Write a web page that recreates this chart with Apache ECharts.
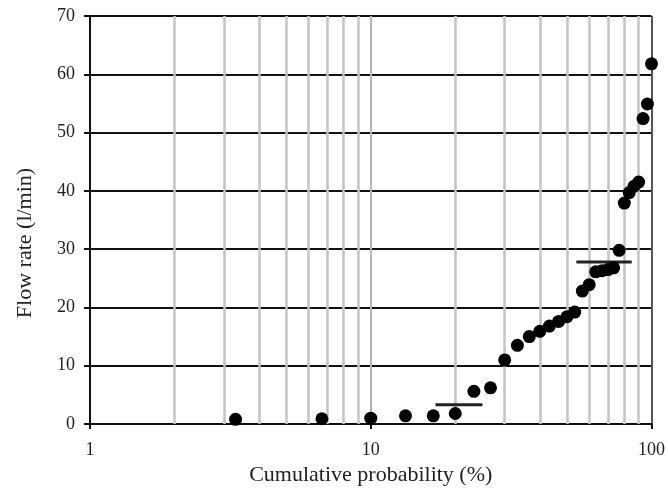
<!DOCTYPE html>
<html>
<head>
<meta charset="utf-8">
<title>Flow rate vs cumulative probability</title>
<script src="https://cdn.jsdelivr.net/npm/echarts@6/dist/echarts.min.js"></script>
<style>
    html, body { margin: 0; padding: 0; background: #fff; }
    #chart { width: 668px; height: 497px; }
</style>
</head>
<body>
<div id="chart"></div>
<script>
    // cumulative probability (%) of each sorted measurement
    var probability = [3.3, 6.7, 10, 13.3, 16.7, 20, 23.3, 26.7, 30, 33.3,
        36.7, 40, 43.3, 46.7, 50, 53.3, 56.7, 60, 63.3, 66.7,
        70, 73.3, 76.7, 80, 83.3, 86.7, 90, 93.3, 96.7, 100];
    // flow rate (l/min)
    var flowRate = [0.8, 0.9, 1.0, 1.4, 1.4, 1.8, 5.6, 6.2, 11.0, 13.5,
        15.0, 15.9, 16.8, 17.6, 18.4, 19.2, 22.8, 23.9, 26.1, 26.3,
        26.5, 26.8, 29.8, 37.9, 39.7, 40.8, 41.5, 52.4, 54.9, 61.8];

    // two horizontal reference segments
    var segLowX = [17, 25];
    var segLowY = 3.3;
    var segHighX = [54, 85];
    var segHighY = 27.8;

    // minor log grid lines
    var minorGrid = [2, 3, 4, 5, 6, 7, 8, 9, 20, 30, 40, 50, 60, 70, 80, 90];
    var yTicks = [0, 70, 10];   // min, max, interval

    var font = 'Liberation Serif';
    var pts = probability.map(function (p, i) { return [p, flowRate[i]]; });

    var chart = echarts.init(document.getElementById('chart'));
    chart.setOption({
        backgroundColor: '#fff',
        animation: false,
        grid: { left: 90, right: 14, top: 16, bottom: 73 },
        xAxis: {
            type: 'log',
            logBase: 10,
            min: 1,
            max: 100,
            name: 'Cumulative probability (%)',
            nameLocation: 'middle',
            nameGap: 35,
            nameTextStyle: { fontFamily: font, fontSize: 22, color: '#222' },
            axisLine: { lineStyle: { color: '#111', width: 2 } },
            axisTick: { show: true, length: 5, lineStyle: { color: '#111', width: 2 } },
            axisLabel: { fontFamily: font, fontSize: 18, color: '#222', margin: 17 },
            splitLine: { show: true, lineStyle: { color: ['#111', '#b4b4b4', '#555'], width: 2 } }
        },
        yAxis: {
            type: 'value',
            min: yTicks[0],
            max: yTicks[1],
            interval: yTicks[2],
            name: 'Flow rate (l/min)',
            nameLocation: 'middle',
            nameGap: 54,
            nameTextStyle: { fontFamily: font, fontSize: 22, color: '#222', padding: [0, 46, 0, 0] },
            axisLine: { lineStyle: { color: '#111', width: 2 } },
            axisTick: { show: true, length: 6, lineStyle: { color: '#111', width: 2 } },
            axisLabel: { fontFamily: font, fontSize: 18, color: '#222', margin: 15 },
            splitLine: { show: true, lineStyle: { color: '#111', width: 2 } }
        },
        series: [
            {
                type: 'scatter',
                data: pts,
                symbol: 'circle',
                symbolSize: 13,
                itemStyle: { color: '#000', opacity: 1 },
                z: 5,
                markLine: {
                    silent: true,
                    symbol: 'none',
                    label: { show: false },
                    lineStyle: { color: '#c4c4c4', width: 2.5, type: 'solid' },
                    data: minorGrid.map(function (v) { return { xAxis: v }; }),
                    z: 1
                }
            },
            {
                type: 'line',
                data: [[segLowX[0], segLowY], [segLowX[1], segLowY]],
                symbol: 'none',
                lineStyle: { color: '#222', width: 3 },
                z: 4
            },
            {
                type: 'line',
                data: [[segHighX[0], segHighY], [segHighX[1], segHighY]],
                symbol: 'none',
                lineStyle: { color: '#222', width: 3 },
                z: 4
            }
        ]
    });
</script>
</body>
</html>
